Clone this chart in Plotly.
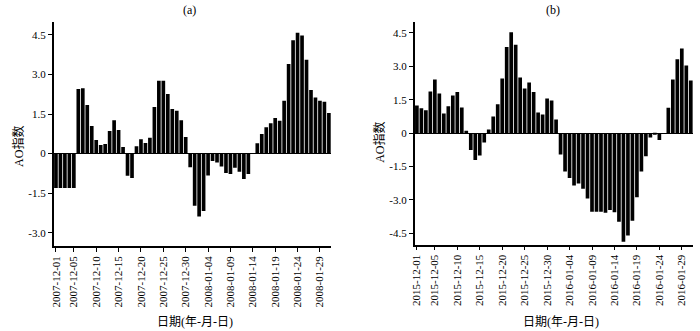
import pandas as pd
import plotly.graph_objects as go

# ---------------- data ----------------
dates_a = pd.date_range("2007-12-01", "2008-01-31", freq="D")
dates_b = pd.date_range("2015-12-01", "2016-01-31", freq="D")

ao_a = [-1.3, -1.3, -1.3, -1.3, -1.3, 2.45, 2.48, 1.84, 1.05, 0.52,
        0.33, 0.37, 0.86, 1.27, 0.9, 0.25, -0.84, -0.92, 0.28, 0.55,
        0.4, 0.6, 1.77, 2.76, 2.76, 2.26, 1.69, 1.63, 1.27, 0.63,
        -0.52, -1.97, -2.38, -2.17, -0.83, -0.28, -0.34, -0.49, -0.73, -0.77,
        -0.53, -0.69, -0.96, -0.77, 0.0, 0.39, 0.74, 1.0, 1.15, 1.35,
        1.25, 2.0, 3.4, 4.3, 4.58, 4.48, 3.56, 2.41, 2.13, 2.0,
        1.97, 1.54]

ao_b = [1.24, 1.11, 1.02, 1.87, 2.41, 1.78, 0.88, 1.2, 1.69, 1.84,
        1.15, 0.1, -0.76, -1.21, -1.0, -0.42, 0.16, 0.75, 1.29, 2.45,
        3.86, 4.53, 3.96, 2.5, 2.0, 2.27, 1.84, 0.93, 0.84, 1.55,
        1.46, 0.61, -0.96, -1.72, -2.02, -2.35, -2.26, -2.5, -2.93, -3.53,
        -3.53, -3.53, -3.58, -3.45, -3.55, -3.98, -4.88, -4.6, -3.93, -2.88,
        -1.72, -1.04, -0.2, -0.06, -0.31, 0.0, 1.14, 2.41, 3.32, 3.8,
        3.03, 2.36]

ticks_a = ["2007-12-01", "2007-12-05", "2007-12-10", "2007-12-15", "2007-12-20",
           "2007-12-25", "2007-12-30", "2008-01-04", "2008-01-09", "2008-01-14",
           "2008-01-19", "2008-01-24", "2008-01-29"]
ticks_b = ["2015-12-01", "2015-12-05", "2015-12-10", "2015-12-15", "2015-12-20",
           "2015-12-25", "2015-12-30", "2016-01-04", "2016-01-09", "2016-01-14",
           "2016-01-19", "2016-01-24", "2016-01-29"]

yticks_a = [-3.0, -1.5, 0, 1.5, 3.0, 4.5]
ylabels_a = ["-3.0", "-1.5", "0", "1.5", "3.0", "4.5"]
yticks_b = [-4.5, -3.0, -1.5, 0, 1.5, 3.0, 4.5]
ylabels_b = ["-4.5", "-3.0", "-1.5", "0", "1.5", "3.0", "4.5"]

titles = ["(a)", "(b)"]
xtitle = "日期(年-月-日)"
ytitle = "AO指数"

# ---------------- figure ----------------
SERIF = "Liberation Serif, Times New Roman, serif"
CJK = "Liberation Serif, Noto Sans CJK SC, serif"

fig = go.Figure()
fig.add_trace(go.Bar(x=dates_a, y=ao_a, marker=dict(color="black", line=dict(width=0)),
                     xaxis="x", yaxis="y", showlegend=False))
fig.add_trace(go.Bar(x=dates_b, y=ao_b, marker=dict(color="black", line=dict(width=0)),
                     xaxis="x2", yaxis="y2", showlegend=False))

half_day = pd.Timedelta(hours=12)

def xaxis(dom, dates, ticks, anchor):
    return dict(domain=dom, anchor=anchor, type="date",
                range=[dates[0] - half_day, dates[-1] + half_day],
                tickvals=ticks, ticktext=ticks, tickangle=-90,
                tickfont=dict(family=SERIF, size=11, color="black"),
                showline=True, linecolor="black", linewidth=1.5,
                ticks="outside", ticklen=4, tickwidth=1, tickcolor="black",
                showgrid=False, zeroline=False)

def yaxis(dom, rng, tv, tt, anchor):
    return dict(domain=dom, anchor=anchor, range=rng,
                tickvals=tv, ticktext=tt,
                tickfont=dict(family=SERIF, size=11, color="black"),
                showline=True, linecolor="black", linewidth=1.5,
                ticks="outside", ticklen=4, tickwidth=1, tickcolor="black",
                showgrid=False, zeroline=True, zerolinecolor="black", zerolinewidth=1)

W, H = 700, 331
fig.update_layout(
    width=W, height=H,
    margin=dict(l=0, r=0, t=0, b=0),
    paper_bgcolor="white", plot_bgcolor="white",
    bargap=0.18,
    xaxis=xaxis([50 / W, 329 / W], dates_a, ticks_a, "y"),
    yaxis=yaxis([1 - 246 / H, 1 - 21.7 / H], [-3.5, 5.0], yticks_a, ylabels_a, "x"),
    xaxis2=xaxis([413 / W, 693 / W], dates_b, ticks_b, "y2"),
    yaxis2=yaxis([1 - 244.5 / H, 1 - 21.7 / H], [-5.0, 5.0], yticks_b, ylabels_b, "x2"),
)

annots = []
for cx, t in zip([187, 552], titles):
    annots.append(dict(x=cx / W, y=1 - 10 / H, xref="paper", yref="paper", text=t,
                       showarrow=False, font=dict(family=SERIF, size=12, color="black"),
                       xanchor="center", yanchor="middle"))
for cx in [192, 560]:
    annots.append(dict(x=cx / W, y=1 - 322 / H, xref="paper", yref="paper", text=xtitle,
                       showarrow=False, font=dict(family=CJK, size=12, color="black"),
                       xanchor="center", yanchor="middle"))
for cx, cy in [(14, 146), (377, 142)]:
    annots.append(dict(x=cx / W, y=1 - cy / H, xref="paper", yref="paper", text=ytitle,
                       showarrow=False, textangle=-90,
                       font=dict(family=CJK, size=12, color="black"),
                       xanchor="center", yanchor="middle"))
fig.update_layout(annotations=annots)

fig.write_html("out.html")
